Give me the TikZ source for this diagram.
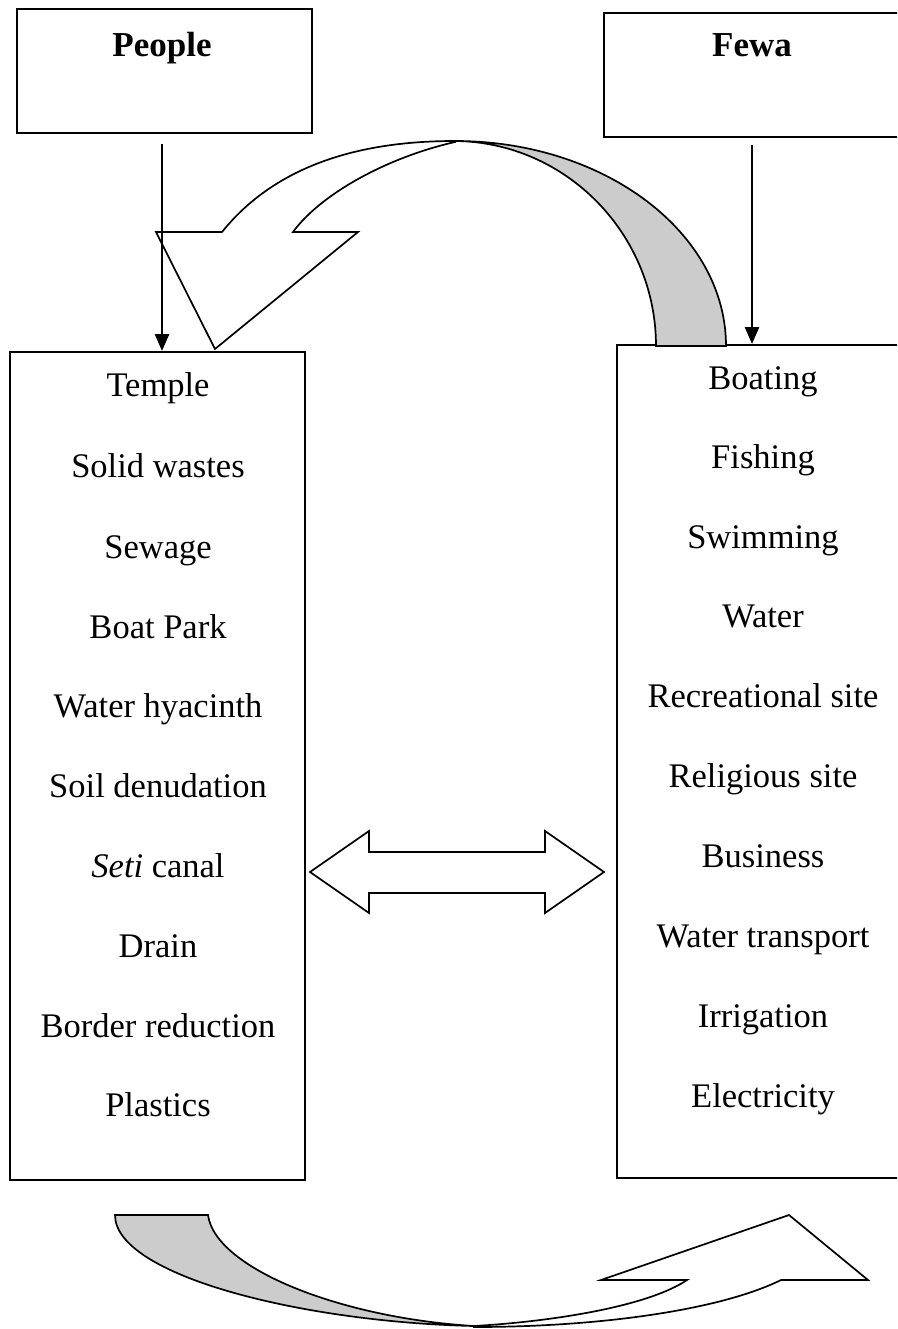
\documentclass[tikz,border=0pt]{standalone}
\usepackage{fontspec}
\setmainfont{Liberation Serif}
\usetikzlibrary{arrows.meta}
\begin{document}
\begin{tikzpicture}[x=1pt,y=-1pt,
  box/.style={draw, line width=2pt, inner sep=0pt},
  lbl/.style={font=\fontsize{34.5}{40}\selectfont, anchor=base, inner sep=0pt},
  ttl/.style={font=\fontsize{35}{40}\selectfont\bfseries, anchor=base, inner sep=0pt},
  flow/.style={line width=2.8pt, -{Triangle[length=17pt,width=14pt]}},
  ribbon/.style={draw, line width=1.7pt, line join=miter},
]
\useasboundingbox (0,0) rectangle (897,1329);
\clip (0,0) rectangle (897,1329);

% boxes
\node[box, minimum width=295pt, minimum height=124pt] (people) at (164.5,71) {};
\node[box, minimum width=306pt, minimum height=124pt] (fewa) at (757,75) {};
\node[box, minimum width=295pt, minimum height=828pt] (left) at (157.5,766) {};
\node[box, minimum width=293pt, minimum height=833pt] (right) at (763.5,761.5) {};

\node[ttl] (peopleT) at (162,57) {People};
\node[ttl] (fewaT) at (752,57) {Fewa};

% top ribbon arrow
\filldraw[ribbon, fill=black!20] (656,346) -- (726,346)
  .. controls (726,233) and (605,141) .. (455,141)
  .. controls (566,142) and (656,234) .. (656,346) -- cycle;
\filldraw[ribbon, fill=white] (455,141) .. controls (370,141) and (280,160) .. (222,232)
  -- (156,232) -- (215,349) -- (358,232) -- (293,232)
  .. controls (320,195) and (385,158) .. (455,142) -- cycle;

% bottom ribbon arrow
\filldraw[ribbon, fill=black!20] (115,1215) -- (208,1215)
  .. controls (215,1268) and (340,1318) .. (474,1326)
  .. controls (300,1322) and (115,1275) .. (115,1215) -- cycle;
\filldraw[ribbon, fill=white] (474,1327) .. controls (600,1327) and (720,1310) .. (781,1280)
  -- (868,1280) -- (789,1215) -- (601,1280) -- (687,1280)
  .. controls (650,1305) and (560,1321) .. (474,1326) -- cycle;

% double arrow
\filldraw[ribbon, fill=white] (310,872) -- (369,831) -- (369,852) -- (545,852) -- (545,831)
  -- (604,872) -- (545,913) -- (545,893) -- (369,893) -- (369,913) -- cycle;

% vertical arrows
\draw[flow] ([xshift=-2.5pt,yshift=-10pt]people.south) -- ([xshift=-2.5pt]people.south |- left.north);
\draw[flow] ([xshift=-5pt,yshift=-7pt]fewa.south) -- ([xshift=-5pt]fewa.south |- right.north);

% left list
\node[lbl] (l1) at (158,396) {Temple};
\node[lbl] (l2) at (158,477) {Solid wastes};
\node[lbl] (l3) at (158,558) {Sewage};
\node[lbl] (l4) at (158,638) {Boat Park};
\node[lbl] (l5) at (158,717) {Water hyacinth};
\node[lbl] (l6) at (158,797) {Soil denudation};
\node[lbl] (l7) at (158,877) {\textit{Seti} canal};
\node[lbl] (l8) at (158,957) {Drain};
\node[lbl] (l9) at (158,1037) {Border reduction};
\node[lbl] (l10) at (158,1116) {Plastics};

% right list
\node[lbl] (r1) at (763,389) {Boating};
\node[lbl] (r2) at (763,468) {Fishing};
\node[lbl] (r3) at (763,548) {Swimming};
\node[lbl] (r4) at (763,627) {Water};
\node[lbl] (r5) at (763,707) {Recreational site};
\node[lbl] (r6) at (763,787) {Religious site};
\node[lbl] (r7) at (763,867) {Business};
\node[lbl] (r8) at (763,947) {Water transport};
\node[lbl] (r9) at (763,1027) {Irrigation};
\node[lbl] (r10) at (763,1107) {Electricity};
\end{tikzpicture}
\end{document}
